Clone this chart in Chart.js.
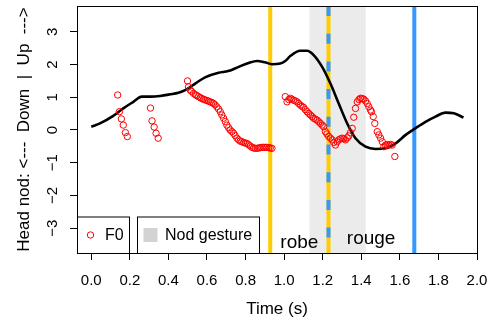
<!DOCTYPE html>
<html>
<head>
<meta charset="utf-8">
<script src="https://cdn.jsdelivr.net/npm/chart.js@4"></script>
<style>
  html, body { margin: 0; padding: 0; background: #fff; }
</style>
</head>
<body>
<canvas id="nodChart" width="495" height="320"></canvas>
<script>
// Head movement trajectory
const headTime = [0, 0.045, 0.114, 0.166, 0.218, 0.262, 0.305, 0.357, 0.409, 0.452, 0.487, 0.539, 0.59, 0.66, 0.71, 0.764, 0.816, 0.86, 0.9, 0.937, 0.98, 1.006, 1.032, 1.084, 1.119, 1.153, 1.197, 1.24, 1.283, 1.327, 1.37, 1.422, 1.474, 1.526, 1.578, 1.63, 1.68, 1.733, 1.785, 1.837, 1.88, 1.93];
const headValue = [0.10, 0.20, 0.43, 0.66, 0.86, 1.02, 1.02, 1.04, 1.09, 1.14, 1.22, 1.42, 1.61, 1.75, 1.80, 1.93, 2.05, 2.11, 2.07, 2.01, 2.03, 2.11, 2.26, 2.42, 2.42, 2.29, 1.93, 1.42, 0.81, 0.20, -0.25, -0.51, -0.58, -0.56, -0.41, -0.15, 0.05, 0.25, 0.41, 0.53, 0.51, 0.38];

// F0 (scaled)
const f0Time = [
  0.137, 0.146, 0.156, 0.166, 0.177, 0.187,
  0.307, 0.315, 0.326, 0.336, 0.347,
  0.499, 0.504, 0.513, 0.52, 0.53, 0.54, 0.547, 0.556, 0.565, 0.573, 0.582, 0.59, 0.60, 0.608, 0.617, 0.625, 0.634, 0.642, 0.651, 0.66, 0.669, 0.677, 0.686, 0.695, 0.703, 0.712, 0.72, 0.729, 0.738, 0.746, 0.755, 0.764, 0.772, 0.781, 0.79, 0.798, 0.807, 0.816, 0.824, 0.833, 0.842, 0.85, 0.86, 0.868, 0.877, 0.885, 0.894, 0.903, 0.911, 0.92, 0.928, 0.937,
  1.006, 1.015, 1.024, 1.032, 1.04, 1.049, 1.058, 1.067, 1.075, 1.084, 1.093, 1.101, 1.11, 1.119, 1.127, 1.136, 1.145, 1.153, 1.162, 1.171, 1.18, 1.188, 1.197, 1.205, 1.214, 1.222, 1.231, 1.24, 1.249, 1.257, 1.266, 1.275, 1.283, 1.292, 1.301, 1.309, 1.318, 1.327, 1.335, 1.344, 1.353, 1.361, 1.37, 1.379, 1.388, 1.396, 1.405, 1.413, 1.422, 1.431, 1.439, 1.448, 1.453, 1.462, 1.47, 1.483, 1.491, 1.5, 1.509, 1.517, 1.526, 1.534, 1.543, 1.551, 1.56, 1.574
];
const f0Value = [
  1.07, 0.56, 0.34, 0.15, -0.08, -0.20,
  0.67, 0.28, 0.09, -0.10, -0.25,
  1.50, 1.32, 1.22, 1.18, 1.12, 1.08, 1.05, 1.02, 0.99, 0.96, 0.94, 0.92, 0.90, 0.88, 0.86, 0.84, 0.81, 0.77, 0.71, 0.64, 0.56, 0.46, 0.36, 0.26, 0.15, 0.07, 0.00, -0.05, -0.10, -0.17, -0.25, -0.30, -0.34, -0.36, -0.38, -0.40, -0.41, -0.45, -0.49, -0.53, -0.55, -0.56, -0.56, -0.55, -0.54, -0.53, -0.53, -0.53, -0.53, -0.54, -0.55, -0.56,
  1.02, 0.86, 0.93, 0.97, 0.94, 0.91, 0.89, 0.86, 0.81, 0.76, 0.72, 0.69, 0.62, 0.56, 0.51, 0.46, 0.41, 0.36, 0.33, 0.30, 0.25, 0.20, 0.15, 0.10, -0.05, -0.12, -0.20, -0.25, -0.30, -0.38, -0.46, -0.36, -0.30, -0.27, -0.25, -0.27, -0.30, -0.24, -0.18, -0.08, 0.05, 0.39, 0.66, 0.86, 0.93, 0.97, 0.96, 0.94, 0.89, 0.81, 0.71, 0.61, 0.56, 0.41, 0.20, -0.05, -0.15, -0.25, -0.36, -0.51, -0.46, -0.45, -0.46, -0.44, -0.46, -0.81
];

// Event markers (s)
const yellowTimes = [0.928];
const blueTimes = [1.675];
const sharedTime = 1.23;
const nodSpan = [1.131, 1.423];

// Word labels
const wordLabels = ['robe', 'rouge'];
const wordTime = [1.079, 1.451];
const wordBase = [-3.61, -3.48];

const xTicks = [0, 0.2, 0.4, 0.6, 0.8, 1.0, 1.2, 1.4, 1.6, 1.8, 2.0];
const yTicks = [-3, -2, -1, 0, 1, 2, 3];
const xMin = -0.074, xMax = 2.0;
const yMin = -3.76, yMax = 3.79;

const FONT = '"Liberation Sans", Arial, Helvetica, sans-serif';
const YELLOW = '#FFCC00';
const BLUE = '#3399FF';

function vline(t, color, dash) {
  return {
    data: [{x: t, y: yMax}, {x: t, y: yMin}],
    showLine: true,
    borderColor: color,
    borderWidth: 4,
    borderDash: dash || [],
    pointRadius: 0
  };
}

function noPad(s) {
  s.paddingTop = 0;
  s.paddingBottom = 0;
  s.paddingLeft = 0;
  s.paddingRight = 0;
}

const extras = {
  id: 'extras',
  beforeDatasetsDraw(chart) {
    const {ctx, chartArea: a, scales: {x}} = chart;
    const x0 = x.getPixelForValue(nodSpan[0]);
    const x1 = x.getPixelForValue(nodSpan[1]);
    ctx.save();
    ctx.fillStyle = '#EBEBEB';
    ctx.fillRect(x0, a.top, x1 - x0, a.bottom - a.top);
    ctx.restore();
  },
  afterDatasetsDraw(chart) {
    const {ctx, chartArea: a, scales: {x, y}} = chart;
    ctx.save();
    ctx.fillStyle = '#000';
    ctx.font = '19px ' + FONT;
    ctx.textAlign = 'center';
    ctx.textBaseline = 'alphabetic';
    wordLabels.forEach((w, i) => {
      ctx.fillText(w, x.getPixelForValue(wordTime[i]), y.getPixelForValue(wordBase[i]));
    });

    // legends
    const top = a.bottom - 36.5;
    ctx.lineWidth = 1;
    ctx.strokeStyle = '#000';
    ctx.fillStyle = '#fff';
    ctx.fillRect(a.left, top, 52.5, a.bottom - top);
    ctx.strokeRect(a.left + 0.5, top + 0.5, 52, a.bottom - top);
    ctx.fillRect(a.left + 60, top, 122.5, a.bottom - top);
    ctx.strokeRect(a.left + 60.5, top + 0.5, 122, a.bottom - top);
    const my = top + 18.5;
    ctx.strokeStyle = '#FF0000';
    ctx.beginPath();
    ctx.arc(a.left + 13.5, my, 3.2, 0, Math.PI * 2);
    ctx.stroke();
    ctx.fillStyle = '#D3D3D3';
    ctx.fillRect(a.left + 66.5, my - 7, 14, 14);
    ctx.fillStyle = '#000';
    ctx.font = '16px ' + FONT;
    ctx.textAlign = 'left';
    ctx.textBaseline = 'middle';
    ctx.fillText('F0', a.left + 28, my + 1);
    ctx.fillText('Nod gesture', a.left + 88, my + 1);

    // box
    ctx.strokeStyle = '#000';
    ctx.strokeRect(a.left + 0.5, a.top + 0.5, a.right - a.left, a.bottom - a.top);
    ctx.restore();
  }
};

new Chart(document.getElementById('nodChart'), {
  type: 'scatter',
  data: {
    datasets: [
      {
        data: f0Time.map((t, i) => ({x: t, y: f0Value[i]})),
        pointStyle: 'circle',
        pointRadius: 3.2,
        pointBorderWidth: 1,
        pointBorderColor: '#FF0000',
        pointBackgroundColor: 'rgba(0,0,0,0)'
      },
      {
        data: headTime.map((t, i) => ({x: t, y: headValue[i]})),
        showLine: true,
        borderColor: '#000',
        borderWidth: 2.6,
        cubicInterpolationMode: 'monotone',
        pointRadius: 0
      },
      vline(sharedTime, BLUE, [10, 17.7]),
      vline(sharedTime, YELLOW),
      ...yellowTimes.map(t => vline(t, YELLOW)),
      ...blueTimes.map(t => vline(t, BLUE))
    ]
  },
  options: {
    responsive: false,
    animation: false,
    layout: { padding: { top: 6, right: 18, left: 0, bottom: 0 } },
    plugins: {
      legend: { display: false },
      tooltip: { enabled: false }
    },
    scales: {
      x: {
        type: 'linear',
        min: xMin,
        max: xMax,
        afterBuildTicks: s => { s.ticks = xTicks.map(v => ({value: v})); },
        afterFit: s => { s.height = 67; noPad(s); },
        grid: { drawOnChartArea: false, drawTicks: true, tickLength: 7, color: '#000' },
        border: { display: false },
        ticks: {
          color: '#000',
          padding: 12,
          maxRotation: 0,
          font: { family: FONT, size: 15 },
          callback: v => v.toFixed(1)
        },
        title: {
          display: true,
          text: 'Time (s)',
          color: '#000',
          font: { family: FONT, size: 17 },
          padding: { top: 6, bottom: 0 }
        }
      },
      y: {
        type: 'linear',
        min: yMin,
        max: yMax,
        afterBuildTicks: s => { s.ticks = yTicks.map(v => ({value: v})); },
        afterFit: s => { s.width = 77; noPad(s); },
        grid: { drawOnChartArea: false, drawTicks: true, tickLength: 7, color: '#000' },
        border: { display: false },
        ticks: {
          color: '#000',
          padding: 9,
          minRotation: 90,
          maxRotation: 90,
          crossAlign: 'center',
          font: { family: FONT, size: 15 },
          callback: v => String(v).replace('-', '\u2212')
        },
        title: {
          display: true,
          text: 'Head nod: <---  Down  |  Up  --->',
          color: '#000',
          font: { family: FONT, size: 17 },
          padding: { top: 14, bottom: 0 }
        }
      }
    }
  },
  plugins: [extras]
});
</script>
</body>
</html>
